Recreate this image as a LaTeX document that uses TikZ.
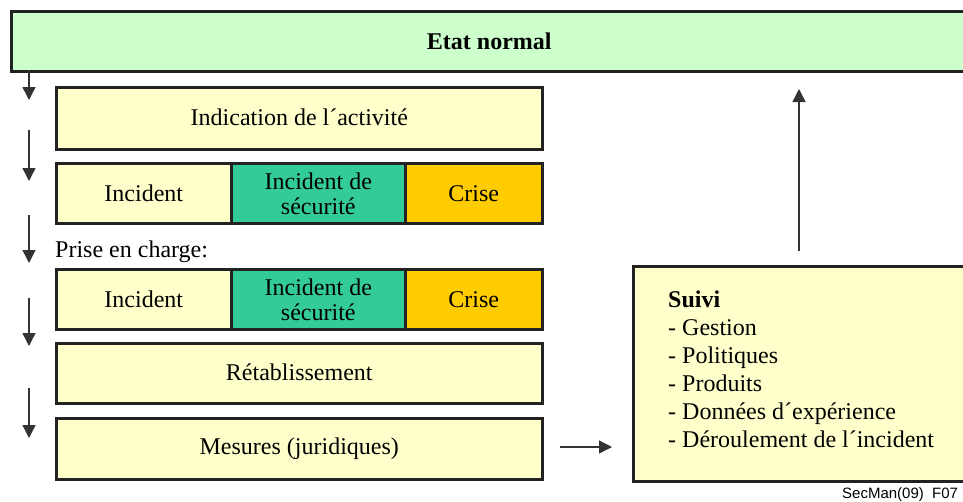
\documentclass[tikz,border=0pt]{standalone}
\usepackage{fontspec}
\setmainfont{Liberation Serif}
\newfontfamily\labelsans{Liberation Sans}
\usetikzlibrary{arrows.meta}
\definecolor{stategreen}{HTML}{CCFFCC}
\definecolor{paleyellow}{HTML}{FFFFCC}
\definecolor{secteal}{HTML}{33CC99}
\definecolor{crisisorange}{HTML}{FFCC00}
\definecolor{edgedark}{HTML}{222222}
\definecolor{arrowdark}{HTML}{333333}
\tikzset{
  box/.style={draw=edgedark, line width=2.6pt, inner sep=0pt, anchor=north west,
    font=\fontsize{24}{25}\selectfont, align=center},
  flow/.style={draw=arrowdark, line width=1.4pt,
    -{Triangle[length=13pt,width=13pt]}},
}
\begin{document}
\begin{tikzpicture}[x=1pt,y=-1pt]
\useasboundingbox (0,0) rectangle (963,501);
\clip (0,0) rectangle (963,501);

% top state bar
\node[box, fill=stategreen, minimum width=956pt, minimum height=60pt,
      font=\fontsize{24}{25}\selectfont\bfseries] (etat) at (10,10) {Etat normal};

% activity row
\node[box, fill=paleyellow, minimum width=486pt, minimum height=62pt] (indic) at (55,86) {\raisebox{2pt}{Indication de l\textasciiacute activité}};

% detection row
\node[box, fill=paleyellow, minimum width=175pt, minimum height=60pt] (inc1) at (55,162) {Incident};
\node[box, fill=secteal, minimum width=174pt, minimum height=60pt] (sec1) at (230,162) {Incident de\\sécurité};
\node[box, fill=crisisorange, minimum width=137pt, minimum height=60pt] (cri1) at (404,162) {Crise};

% handling row
\node[anchor=base west, inner sep=0pt, font=\fontsize{24}{25}\selectfont] (prise) at (55,257) {Prise en charge:};
\node[box, fill=paleyellow, minimum width=175pt, minimum height=60pt] (inc2) at (55,268) {Incident};
\node[box, fill=secteal, minimum width=174pt, minimum height=60pt] (sec2) at (230,268) {Incident de\\sécurité};
\node[box, fill=crisisorange, minimum width=137pt, minimum height=60pt] (cri2) at (404,268) {Crise};

% recovery and measures
\node[box, fill=paleyellow, minimum width=486pt, minimum height=60pt] (retab) at (55,342) {\raisebox{2pt}{Rétablissement}};
\node[box, fill=paleyellow, minimum width=486pt, minimum height=61pt] (mesures) at (55,417) {Mesures (juridiques)};

% follow-up box
\node[box, fill=paleyellow, minimum width=336pt, minimum height=215pt] (suivi) at (632,265) {};
\node[anchor=north west, inner sep=0pt, align=left,
      font=\fontsize{24}{28}\selectfont] (suivitxt) at (668,291)
  {\textbf{Suivi}\\- Gestion\\- Politiques\\- Produits\\- Données d\textasciiacute expérience\\- Déroulement de l\textasciiacute incident};

% left-hand flow arrows
\coordinate (a1s) at (29,70);  \coordinate (a1e) at (29,100);
\coordinate (a2s) at (29,130); \coordinate (a2e) at (29,181);
\coordinate (a3s) at (29,215); \coordinate (a3e) at (29,263);
\coordinate (a4s) at (29,298); \coordinate (a4e) at (29,346);
\coordinate (a5s) at (29,388); \coordinate (a5e) at (29,438);
\draw[flow] (a1s) -- (a1e);
\draw[flow] (a2s) -- (a2e);
\draw[flow] (a3s) -- (a3e);
\draw[flow] (a4s) -- (a4e);
\draw[flow] (a5s) -- (a5e);

% measures to follow-up, follow-up back to normal state
\coordinate (rs) at (560,447); \coordinate (re) at (612,447);
\draw[flow] (rs) -- (re);
\coordinate (us) at (799,251); \coordinate (ue) at (799,89);
\draw[flow] (us) -- (ue);

% figure reference
\node[anchor=base west, inner sep=0pt, font=\labelsans\fontsize{15}{17}\selectfont] (ref) at (842,498) {SecMan(09)\ \ F07};
\end{tikzpicture}
\end{document}
